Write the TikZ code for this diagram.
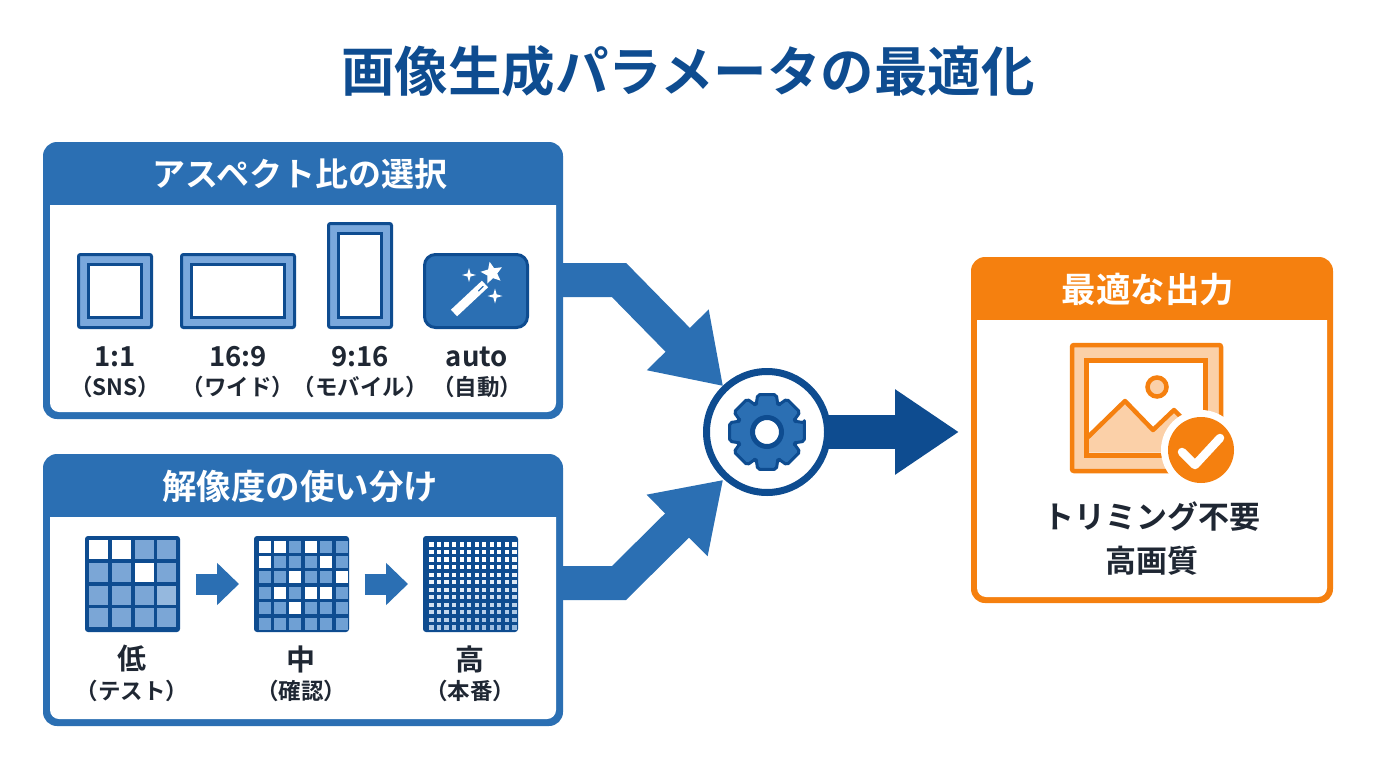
\documentclass[tikz,border=0pt]{standalone}
\usepackage{fontspec}
\setmainfont{Noto Sans CJK JP}[BoldFont={Noto Sans CJK JP Bold}]
\usetikzlibrary{arrows.meta,shapes.geometric,calc,backgrounds}
\definecolor{bluem}{HTML}{2B6FB3}
\definecolor{blued}{HTML}{0E4C90}
\definecolor{bluel}{HTML}{7AA8DC}
\definecolor{cellb}{HTML}{7BA6D6}
\definecolor{cellc}{HTML}{6FA0D4}
\definecolor{orangem}{HTML}{F5800F}
\definecolor{orangel}{HTML}{FBD0A8}
\definecolor{inkd}{HTML}{1F2733}
\newcommand{\fsz}[1]{\fontsize{#1}{#1}\selectfont\bfseries}
\newcommand{\sparklemark}[3]{\fill[white,shift={(#1,#2)},scale=#3] (0,-1)--(.22,-.22)--(1,0)--(.22,.22)--(0,1)--(-.22,.22)--(-1,0)--(-.22,-.22)--cycle;}
\tikzset{
  panelblue/.style={fill=bluem,rounded corners=14pt,inner sep=0,outer sep=0},
  panelorange/.style={fill=orangem,rounded corners=14pt,inner sep=0,outer sep=0},
  head/.style={text=white,inner sep=0,font=\fsz{33}},
  frameout/.style={draw=blued,line width=3pt,fill=bluel,rounded corners=2pt,inner sep=0,outer sep=0},
  framein/.style={draw=blued,line width=3pt,fill=white,inner sep=0,outer sep=0},
  grid/.style={fill=blued,rounded corners=3pt,minimum width=95pt,minimum height=96pt,inner sep=0,outer sep=0},
  mainlab/.style={text=inkd,inner sep=0,font=\fsz{27.5}},
  sublab/.style={text=inkd,inner sep=0,font=\fsz{22.5}},
  fat/.style={draw=bluem,line width=34pt,line join=miter,-{Triangle[length=65pt,width=82pt]}},
  fatdark/.style={draw=blued,line width=34pt,-{Triangle[length=64pt,width=81pt]}},
  small/.style={draw=bluem,line width=21pt,-{Triangle[length=22pt,width=41pt]}},
  outtext/.style={text=inkd,inner sep=0,font=\fsz{31}},
}
\begin{document}
\begin{tikzpicture}[x=1pt,y=-1pt]
\useasboundingbox (0,0) rectangle (1376,768);
\node[text=blued,inner sep=0,font=\fsz{53.5}] (title) at (688,71) {画像生成パラメータの最適化};

% panels
\node[panelblue,minimum width=520pt,minimum height=277pt] (panelA) at (303,280.5) {};
\fill[white] (50,205) [rounded corners=9pt] -- (50,412) -- (556,412) [sharp corners] -- (556,205) -- cycle;
\node[head] (headA) at (300,174) {アスペクト比の選択};
\node[panelblue,minimum width=520pt,minimum height=272pt] (panelB) at (303,590) {};
\fill[white] (50,517) [rounded corners=9pt] -- (50,719) -- (556,719) [sharp corners] -- (556,517) -- cycle;
\node[head,font=\fsz{34.5}] (headB) at (300,486) {解像度の使い分け};
\node[panelorange,minimum width=362pt,minimum height=346pt] (panelC) at (1152,430) {};
\fill[white] (977,320) [rounded corners=9pt] -- (977,597) -- (1327,597) [sharp corners] -- (1327,320) -- cycle;
\node[head,font=\fsz{34.5}] (headC) at (1148,289) {最適な出力};

% aspect icons
\node[frameout,minimum width=73pt,minimum height=73pt] (sq) at (115,291) {};
\node[framein,minimum width=53pt,minimum height=53pt] (sqi) at (115,291) {};
\node[frameout,minimum width=113pt,minimum height=73pt] (wide) at (238,291) {};
\node[framein,minimum width=93pt,minimum height=53pt] (widei) at (238,291) {};
\node[frameout,minimum width=63pt,minimum height=104pt] (tall) at (360,275.5) {};
\node[framein,minimum width=43pt,minimum height=84pt] (talli) at (360,275.5) {};
\node[draw=blued,line width=3pt,fill=bluem,rounded corners=11pt,minimum width=103pt,minimum height=73pt,inner sep=0,outer sep=0] (autob) at (476,291) {};
% wand
\draw[white,line width=9pt] (454,313) -- (485,284);
\draw[bluem,line width=1.4pt,line cap=round] (478.5,291) -- (483,286.5);
\node[star,star points=5,star point ratio=2.2,fill=white,minimum size=23pt,inner sep=0,rotate=12] (bigstar) at (492,273) {};
\sparklemark{469}{275}{7}
\sparklemark{495}{296}{7.5}

\node[mainlab] (l1) at (115,357) {1:1};
\node[sublab] (s1) at (115,387) {（SNS）};
\node[mainlab] (l2) at (238,357) {16:9};
\node[sublab] (s2) at (238,387) {（ワイド）};
\node[mainlab] (l3) at (360,357) {9:16};
\node[sublab] (s3) at (360,387) {（モバイル）};
\node[mainlab] (l4) at (477,357) {auto};
\node[sublab] (s4) at (477,387) {（自動）};

% grids
\node[grid] (gridA) at (132.5,584) {};
\node[grid] (gridB) at (301.5,584) {};
\node[grid] (gridC) at (470.5,584) {};
\begin{scope}[shift={(gridA.north west)}]
  \foreach \r in {0,1,2,3} \foreach \c in {0,1,2,3}
    \fill[cellb] ({4.2+\c*22.7},{4.2+\r*22.7}) rectangle +(19,19);
  \fill[white!20!cellb] ({4.2+3*22.7},{4.2+2*22.7}) rectangle +(19,19);
  \foreach \r/\c in {0/0,0/1,1/2}
    \fill[white] ({4.2+\c*22.7},{4.2+\r*22.7}) rectangle +(19,19);
\end{scope}
\begin{scope}[shift={(gridB.north west)}]
  \foreach \r in {0,...,5} \foreach \c in {0,...,5}
    \fill[cellc] ({4.5+\c*15.4},{4.5+\r*15.4}) rectangle +(12,12);
  \foreach \r/\c in {0/0,0/1,0/3,1/0,1/4,2/2,2/5,3/1,3/3,3/4,4/2}
    \fill[white] ({4.5+\c*15.4},{4.5+\r*15.4}) rectangle +(12,12);
\end{scope}
\begin{scope}[shift={(gridC.north west)}]
  \foreach \r in {0,...,11} \foreach \c in {0,...,11} {
    \pgfmathtruncatemacro{\p}{max(100-max(0,\r-3)*7-max(0,\c+\r-10)*2,15)}
    \fill[white!\p!cellb] ({6.3+\c*7.55},{6.3+\r*7.55}) rectangle +(4.2,4.2);
  }
\end{scope}
\draw[small,shorten <=15.5pt,shorten >=15pt] (gridA.east) -- (gridB.west);
\draw[small,shorten <=15.5pt,shorten >=15pt] (gridB.east) -- (gridC.west);

\node[mainlab,font=\fsz{29}] (la) at (132,659) {低};
\node[sublab,font=\fsz{22.5}] (sa) at (132,691) {（テスト）};
\node[mainlab,font=\fsz{29}] (lb) at (301,659) {中};
\node[sublab,font=\fsz{22.5}] (sb) at (301,691) {（確認）};
\node[mainlab,font=\fsz{29}] (lc) at (470,659) {高};
\node[sublab,font=\fsz{22.5}] (sc) at (470,691) {（本番）};

% hub with its connectors behind it
\node[circle,draw=blued,line width=7pt,fill=white,minimum size=121pt,inner sep=0] (hub) at (767,432) {};
\coordinate (bendA) at (619,280);
\coordinate (bendB) at (619,583);
\begin{pgfonlayer}{background}
\draw[fat] (panelA.east |- bendA) -- (bendA) -- ($(hub.135)+(1.5,-0.5)$);
\draw[fat] (panelB.east |- bendB) -- (bendB) -- ($(hub.225)+(1.5,2.5)$);
\draw[fatdark,shorten >=12pt] (hub.center) -- (hub -| panelC.west);
\end{pgfonlayer}
% gear
\draw[shift={(hub.center)},fill=bluem,draw=blued,line width=3pt,line join=round,rounded corners=2pt]
  (-14:38.5) \foreach \a in {0,45,...,315} { -- (\a-14:38.5) -- (\a+14:38.5) -- (\a+21:30) -- (\a+24:30) } -- cycle;
\node[circle,draw=blued,line width=5pt,fill=white,minimum size=29pt,inner sep=0] (gearhole) at (hub) {};

% output icon
\node[draw=orangem,line width=4.5pt,fill=orangel,rounded corners=2pt,minimum width=149pt,minimum height=126pt,inner sep=0,outer sep=0] (pic) at (1146.5,408) {};
\node[draw=orangem,line width=5.5pt,fill=white,minimum width=119pt,minimum height=95pt,inner sep=0,outer sep=0] (pici) at (1146,408) {};
\fill[orangel] (1089,436) -- (1125,401) -- (1153,430) -- (1174,410) -- (1195,430) -- (1195,452.5) -- (1089,452.5) -- cycle;
\draw[orangem,line width=4.5pt,line join=round] (1087,438) -- (1125,401) -- (1153,430) -- (1174,410) -- (1190,426);
\node[circle,draw=orangem,line width=4.5pt,fill=orangel,minimum size=19pt,inner sep=0] (sun) at (1157,387) {};
\node[circle,fill=white,minimum size=80pt,inner sep=0] (badgeb) at (1201,450) {};
\node[circle,fill=orangem,minimum size=66pt,inner sep=0] (badge) at (1201,450) {};
\draw[white,line width=8.5pt,line cap=round,line join=round] (1182,452) -- (1195,465) -- (1220,438);

\node[outtext] (o1) at (1152,517) {トリミング不要};
\node[outtext] (o2) at (1152,561) {高画質};
\end{tikzpicture}
\end{document}
